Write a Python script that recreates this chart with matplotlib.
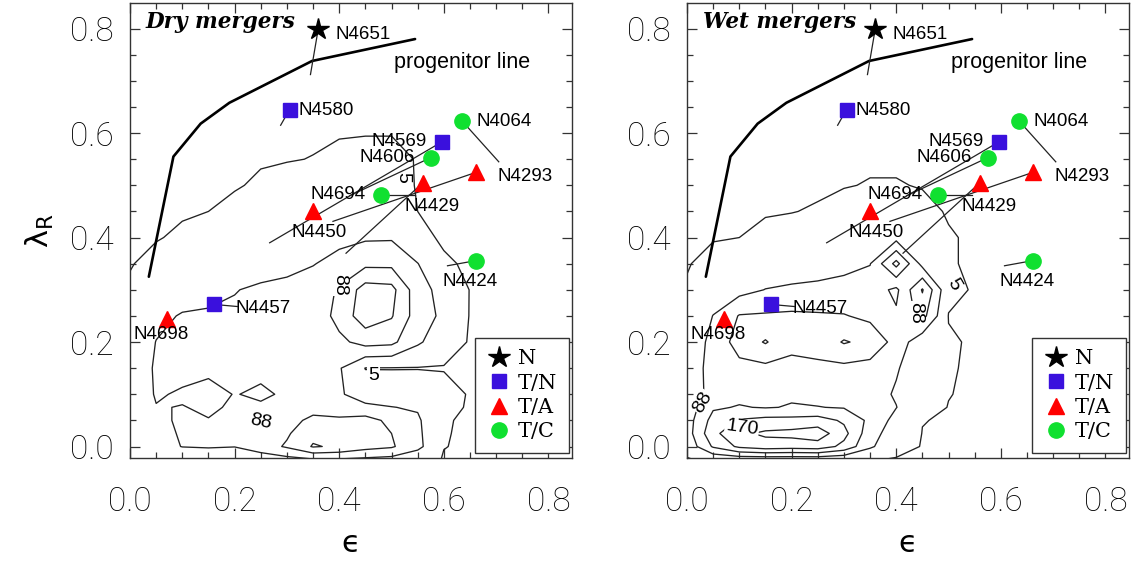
import numpy as np
import matplotlib
matplotlib.use('Agg')
import matplotlib.pyplot as plt
from matplotlib.lines import Line2D

# ---------------- data ----------------
gal_names = ['N4651', 'N4580', 'N4064', 'N4569', 'N4606', 'N4293',
             'N4429', 'N4694', 'N4450', 'N4424', 'N4457', 'N4698']
gal_eps = [0.36, 0.305, 0.635, 0.596, 0.575, 0.662, 0.56, 0.48, 0.349, 0.662, 0.16, 0.071]
gal_lam = [0.80, 0.645, 0.623, 0.583, 0.553, 0.525, 0.505, 0.482, 0.45, 0.356, 0.272, 0.245]
gal_class = ['N', 'T/N', 'T/C', 'T/N', 'T/C', 'T/A', 'T/A', 'T/C', 'T/A', 'T/C', 'T/N', 'T/A']
# other end of the line attached to each galaxy
seg_eps = [0.345, 0.288, 0.705, 0.267, 0.42, 0.388, 0.413, 0.545, 0.349, 0.607, 0.205, 0.071]
seg_lam = [0.712, 0.615, 0.545, 0.39, 0.48, 0.431, 0.37, 0.482, 0.45, 0.346, 0.268, 0.245]

prog_eps = [0.036, 0.083, 0.135, 0.19, 0.348, 0.545]
prog_lam = [0.325, 0.555, 0.618, 0.658, 0.738, 0.78]

grid_eps = [0.00, 0.05, 0.10, 0.15, 0.20, 0.25, 0.30, 0.35, 0.40,
            0.45, 0.50, 0.55, 0.60, 0.65, 0.70, 0.75, 0.80, 0.85]
grid_lam = [0.85, 0.80, 0.75, 0.70, 0.65, 0.60, 0.55, 0.50, 0.45,
            0.40, 0.35, 0.30, 0.25, 0.20, 0.15, 0.10, 0.075, 0.05,
            0.025, 0.00, -0.025]
contour_levels = [5, 88, 170, 253, 336]

dry_density = [
    [0, 0, 0, 0, 0, 0, 0, 0, 0, 0, 0, 0, 0, 0, 0, 0, 0, 0],
    [0, 0, 0, 0, 0, 0, 0, 0, 0, 0, 0, 0, 0, 0, 0, 0, 0, 0],
    [0, 0, 0, 0, 0, 0, 0, 0, 0, 0, 0, 0, 0, 0, 0, 0, 0, 0],
    [0, 0, 0, 0, 0, 0, 0, 0, 0, 0, 0, 0, 0, 0, 0, 0, 0, 0],
    [0, 0, 0, 0, 0, 0, 0, 0, 0, 0, 0, 0, 0, 0, 0, 0, 0, 0],
    [0, 0, 0, 0, 0, 0, 0, 0, 2, 3, 3, 0, 0, 0, 0, 0, 0, 0],
    [0, 0, 0, 0, 0, 2, 3, 6, 15, 20, 20, 2, 0, 0, 0, 0, 0, 0],
    [0, 0, 0, 0, 2, 10, 20, 25, 30, 30, 25, 2, 0, 0, 0, 0, 0, 0],
    [0, 0, 2, 5, 15, 25, 30, 35, 40, 40, 35, 5, 0, 0, 0, 0, 0, 0],
    [0, 3, 10, 20, 30, 35, 40, 50, 70, 78, 80, 15, 0, 0, 0, 0, 0, 0],
    [3, 15, 25, 35, 45, 55, 70, 85, 110, 150, 150, 90, 10, 0, 0, 0, 0, 0],
    [10, 30, 45, 60, 85, 100, 105, 120, 180, 290, 280, 120, 60, 3, 0, 0, 0, 0],
    [12, 65, 95, 100, 100, 100, 95, 110, 200, 300, 260, 130, 70, 2, 0, 0, 0, 0],
    [15, 90, 110, 105, 100, 100, 95, 120, 150, 200, 190, 100, 40, 0, 0, 0, 0, 0],
    [20, 100, 110, 100, 100, 100, 100, 100, 95, 3, 2, 2, 1, 0, 0, 0, 0, 0],
    [25, 95, 80, 70, 90, 80, 95, 110, 100, 40, 50, 60, 30, 0, 0, 0, 0, 0],
    [22, 85, 90, 80, 95, 95, 115, 140, 140, 110, 90, 80, 20, 0, 0, 0, 0, 0],
    [20, 70, 100, 90, 100, 110, 140, 190, 180, 200, 150, 100, 8, 0, 0, 0, 0, 0],
    [18, 65, 95, 92, 95, 120, 160, 230, 210, 200, 170, 105, 7, 0, 0, 0, 0, 0],
    [15, 60, 90, 95, 90, 130, 180, 260, 240, 200, 180, 110, 6, 0, 0, 0, 0, 0],
    [5, 20, 30, 30, 30, 40, 60, 80, 80, 70, 60, 30, 2, 0, 0, 0, 0, 0],
]

wet_density = [
    [0, 0, 0, 0, 0, 0, 0, 0, 0, 0, 0, 0, 0, 0, 0, 0, 0, 0],
    [0, 0, 0, 0, 0, 0, 0, 0, 0, 0, 0, 0, 0, 0, 0, 0, 0, 0],
    [0, 0, 0, 0, 0, 0, 0, 0, 0, 0, 0, 0, 0, 0, 0, 0, 0, 0],
    [0, 0, 0, 0, 0, 0, 0, 0, 0, 0, 0, 0, 0, 0, 0, 0, 0, 0],
    [0, 0, 0, 0, 0, 0, 0, 0, 0, 0, 0, 0, 0, 0, 0, 0, 0, 0],
    [0, 0, 0, 0, 0, 0, 0, 0, 0, 0, 0, 0, 0, 0, 0, 0, 0, 0],
    [0, 0, 0, 0, 0, 0, 0, 0, 0, 0, 0, 0, 0, 0, 0, 0, 0, 0],
    [0, 0, 0, 0, 0, 0, 3, 7, 7, 3, 0, 0, 0, 0, 0, 0, 0, 0],
    [0, 0, 0, 2, 4, 8, 20, 25, 25, 15, 2, 0, 0, 0, 0, 0, 0, 0],
    [0, 3, 5, 15, 20, 25, 30, 35, 60, 30, 8, 0, 0, 0, 0, 0, 0, 0],
    [3, 15, 25, 35, 45, 55, 70, 85, 280, 60, 8, 0, 0, 0, 0, 0, 0, 0],
    [8, 40, 60, 90, 100, 105, 110, 130, 70, 260, 20, 0, 0, 0, 0, 0, 0, 0],
    [10, 90, 175, 180, 185, 180, 175, 150, 100, 200, 3, 0, 0, 0, 0, 0, 0, 0],
    [12, 120, 200, 260, 190, 200, 260, 230, 140, 30, 10, 0, 0, 0, 0, 0, 0, 0],
    [20, 130, 150, 150, 150, 155, 150, 140, 95, 40, 8, 0, 0, 0, 0, 0, 0, 0],
    [30, 120, 150, 140, 160, 150, 140, 120, 80, 30, 6, 0, 0, 0, 0, 0, 0, 0],
    [40, 160, 175, 165, 175, 172, 165, 140, 90, 20, 4, 0, 0, 0, 0, 0, 0, 0],
    [50, 200, 260, 280, 280, 290, 240, 150, 60, 6, 2, 0, 0, 0, 0, 0, 0, 0],
    [50, 230, 320, 350, 360, 380, 280, 120, 45, 4, 0, 0, 0, 0, 0, 0, 0, 0],
    [30, 180, 270, 300, 290, 300, 230, 100, 30, 2, 0, 0, 0, 0, 0, 0, 0, 0],
    [0, 20, 30, 30, 30, 30, 20, 10, 0, 0, 0, 0, 0, 0, 0, 0, 0, 0],
]

panel_titles = ['Dry mergers', 'Wet mergers']
legend_classes = ['N', 'T/N', 'T/A', 'T/C']

# contour value labels per panel: (text, x, y, rotation)
contour_labels = [
    [('5', 0.522, 0.515, -90), ('5', 0.465, 0.135, 0), ('88', 0.40, 0.31, -90),
     ('88', 0.25, 0.048, -12)],
    [('5', 0.51, 0.31, -60), ('88', 0.437, 0.255, -90), ('88', 0.03, 0.085, 60),
     ('170', 0.105, 0.035, -8)],
]

# ---------------- style / layout ----------------
class_style = {
    'N':   dict(marker='*', color='black', ms=16),
    'T/N': dict(marker='s', color='#3a10dd', ms=10),
    'T/A': dict(marker='^', color='#ff0000', ms=11),
    'T/C': dict(marker='o', color='#10e030', ms=11),
}
# label anchor positions (x, y, ha)
label_pos = [
    (0.392, 0.788, 'left'), (0.322, 0.644, 'left'), (0.662, 0.623, 'left'),
    (0.567, 0.583, 'right'), (0.545, 0.554, 'right'), (0.702, 0.516, 'left'),
    (0.525, 0.459, 'left'), (0.45, 0.482, 'right'), (0.309, 0.41, 'left'),
    (0.598, 0.316, 'left'), (0.202, 0.265, 'left'), (0.006, 0.214, 'left'),
]

W, H = 1139, 564
fig = plt.figure(figsize=(W / 100, H / 100), dpi=100)
ax_rects = [[130 / W, 106 / H, 442 / W, 455 / H],
            [687 / W, 106 / H, 442 / W, 455 / H]]

tick_font = dict(family='Roboto', weight='light', size=24)
ann_font = dict(family='Liberation Sans', size=13.5)

Xg, Yg = np.meshgrid(np.array(grid_eps), np.array(grid_lam))
densities = [np.array(dry_density, float), np.array(wet_density, float)]

for p in range(2):
    ax = fig.add_axes(ax_rects[p])
    ax.set_xlim(0, 0.845)
    ax.set_ylim(-0.022, 0.849)

    ax.contour(Xg, Yg, densities[p], levels=contour_levels,
               colors='#222222', linewidths=0.95)
    for (t, x, y, r) in contour_labels[p]:
        ax.text(x, y, t, family='Liberation Sans', fontsize=14, rotation=r,
                ha='center', va='center', zorder=2,
                bbox=dict(boxstyle='square,pad=0.05', fc='white', ec='none'))

    ax.plot(prog_eps, prog_lam, color='black', lw=1.9, solid_capstyle='round')
    ax.text(0.504, 0.736, 'progenitor line', family='Liberation Sans', fontsize=15.5,
            va='center', ha='left')

    for i in range(len(gal_names)):
        ax.plot([gal_eps[i], seg_eps[i]], [gal_lam[i], seg_lam[i]],
                color='#222222', lw=0.9, zorder=3)
    for i in range(len(gal_names)):
        st = class_style[gal_class[i]]
        ax.plot(gal_eps[i], gal_lam[i], linestyle='none', marker=st['marker'],
                color=st['color'], ms=st['ms'], mec=st['color'], zorder=4)
        lx, ly, ha = label_pos[i]
        ax.text(lx, ly, gal_names[i], fontdict=ann_font, ha=ha, va='center', zorder=5)

    ax.text(0.03, 0.812, panel_titles[p], family='DejaVu Serif', style='italic',
            weight='bold', fontsize=15.5, va='center', ha='left')

    handles = [Line2D([], [], linestyle='none', marker=class_style[c]['marker'],
                      color=class_style[c]['color'], ms=class_style[c]['ms'])
               for c in legend_classes]
    leg = ax.legend(handles, legend_classes, loc='lower right',
                    bbox_to_anchor=(0.993, 0.012), frameon=True, fancybox=False,
                    edgecolor='#333333', framealpha=1,
                    prop=dict(family='DejaVu Serif', size=15),
                    handlelength=1.2, handletextpad=0.3, labelspacing=0.25,
                    borderpad=0.55, borderaxespad=0.0)
    leg.get_frame().set_linewidth(1.0)
    leg.set_zorder(6)

    ax.set_xticks([0.0, 0.2, 0.4, 0.6, 0.8])
    ax.set_yticks([0.0, 0.2, 0.4, 0.6, 0.8])
    ax.set_xticks(np.array(grid_eps[:17]), minor=True)
    ax.set_yticks(np.array(grid_eps[:17]), minor=True)
    ax.set_xticklabels(['0.0', '0.2', '0.4', '0.6', '0.8'], fontdict=tick_font)
    ax.set_yticklabels(['0.0', '0.2', '0.4', '0.6', '0.8'], fontdict=tick_font)
    ax.tick_params(which='both', direction='in', top=True, right=True,
                   color='#333333', width=0.9)
    ax.tick_params(which='major', length=7)
    ax.tick_params(which='minor', length=4)
    ax.tick_params(axis='x', pad=20)
    ax.tick_params(axis='y', pad=12)
    for s in ax.spines.values():
        s.set_linewidth(1.0)
        s.set_color('#333333')
    ax.set_xlabel('\u03f5', family='DejaVu Sans', fontsize=22, labelpad=8)
    if p == 0:
        ax.set_ylabel(r'$\mathrm{\lambda}_{\mathrm{R}}$', fontsize=22, labelpad=10)

fig.savefig('out.png', dpi=100)
